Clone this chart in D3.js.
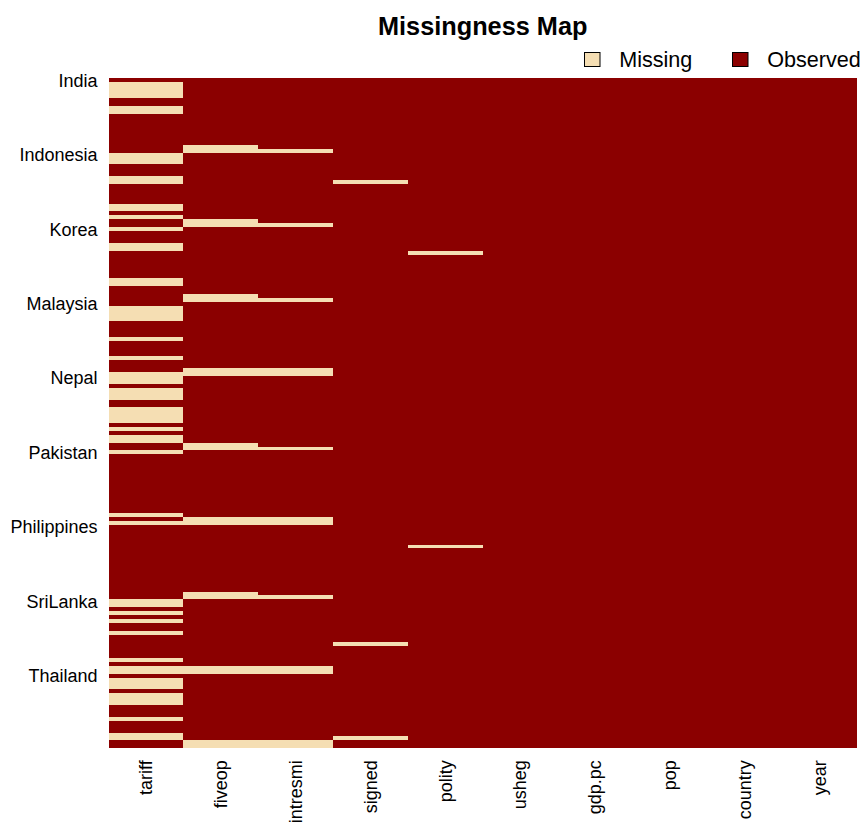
<!DOCTYPE html>
<html>
<head>
<meta charset="utf-8">
<script src="https://d3js.org/d3.v7.min.js"></script>
<style>
	body { margin: 0; background: #fff; }
	text { font-family: "Liberation Sans", Arial, sans-serif; fill: #000; }
	.axis path, .axis line { display: none; }
</style>
</head>
<body>
<svg id="chart" width="866" height="826"></svg>
<script>
const variables = ['tariff', 'fiveop', 'intresmi', 'signed', 'polity', 'usheg', 'gdp.pc', 'pop', 'country', 'year']
const rowCount = 171

// rows counted from the top of the map
const tariffMissing = [1, 2, 3, 4, 7, 8, 19, 20, 21, 25, 26, 32, 33, 35, 38, 42, 43, 51, 52,
	58, 59, 60, 61, 66, 71, 75, 76, 77, 79, 80, 81, 84, 85, 86, 87, 89, 91, 92, 95, 111, 113,
	133, 134, 136, 138, 141, 148, 150, 151, 153, 154, 155, 157, 158, 159, 163, 167, 168]
const fiveopMissing = [17, 18, 36, 37, 55, 56, 74, 75, 93, 94, 112, 113, 131, 132, 150, 151, 169, 170]
const intresmiMissing = [18, 37, 56, 74, 75, 94, 112, 113, 132, 150, 151, 169, 170]
const signedMissing = [26, 144, 168]
const polityMissing = [44, 119]

const missingByVariable = {
	tariff: tariffMissing,
	fiveop: fiveopMissing,
	intresmi: intresmiMissing,
	signed: signedMissing,
	polity: polityMissing
}

const rowLabels = ['India', 'Indonesia', 'Korea', 'Malaysia', 'Nepal', 'Pakistan', 'Philippines', 'SriLanka', 'Thailand']
const rowLabelEvery = 19

const legendItems = ['Missing', 'Observed']
const colors = { Missing: '#f5deb3', Observed: '#8b0000' }

const plotLeft = 108.5
const plotRight = 856.5
const plotTop = 78.25
const plotBottom = 748.25

const rows = d3.range(rowCount)

const x = d3.scaleBand().domain(variables).range([plotLeft, plotRight])
const y = d3.scaleBand().domain(rows).range([plotTop, plotBottom])

const svg = d3.select('#chart')

const cells = variables.flatMap((v) => {
	const missing = new Set(missingByVariable[v] || [])
	return rows.map((r) => ({ variable: v, row: r, state: missing.has(r) ? 'Missing' : 'Observed' }))
})

svg.append('g')
	.attr('shape-rendering', 'crispEdges')
	.selectAll('rect')
	.data(cells)
	.join('rect')
		.attr('x', (d) => x(d.variable))
		.attr('y', (d) => y(d.row))
		.attr('width', x.bandwidth())
		.attr('height', y.bandwidth())
		.attr('fill', (d) => colors[d.state])

svg.append('text')
	.attr('x', 482.7)
	.attr('y', 35)
	.attr('text-anchor', 'middle')
	.attr('font-size', 25.3)
	.attr('font-weight', 'bold')
	.text('Missingness Map')

// left axis, a label every 19 rows
svg.append('g')
	.attr('class', 'axis')
	.attr('transform', `translate(${plotLeft}, 0)`)
	.call(d3.axisLeft(y)
		.tickValues(rows.filter((r) => r % rowLabelEvery === 0))
		.tickSize(0)
		.tickPadding(11)
		.tickFormat((r) => rowLabels[r / rowLabelEvery]))
	.call((g) => g.selectAll('text')
		.attr('font-size', 18)
		.attr('dy', '0.36em'))

// bottom axis, labels read upwards
svg.append('g')
	.attr('class', 'axis')
	.attr('transform', `translate(0, ${plotBottom})`)
	.call(d3.axisBottom(x).tickSize(0).tickFormat((d) => d))
	.call((g) => g.selectAll('text')
		.attr('font-size', 18)
		.attr('text-anchor', 'end')
		.attr('transform', 'rotate(-90)')
		.attr('x', -12)
		.attr('y', -0.1)
		.attr('dy', '0.37em'))

const legendX = d3.scaleOrdinal().domain(legendItems).range([584.5, 732.5])

const legend = svg.append('g')
	.selectAll('g')
	.data(legendItems)
	.join('g')
		.attr('transform', (d) => `translate(${legendX(d)}, 52.5)`)

legend.append('rect')
	.attr('width', 15.5)
	.attr('height', 14)
	.attr('fill', (d) => colors[d])
	.attr('stroke', '#000')
	.attr('stroke-width', 1)

legend.append('text')
	.attr('x', 34.7)
	.attr('y', 14.5)
	.attr('font-size', 21.6)
	.text((d) => d)
</script>
</body>
</html>
